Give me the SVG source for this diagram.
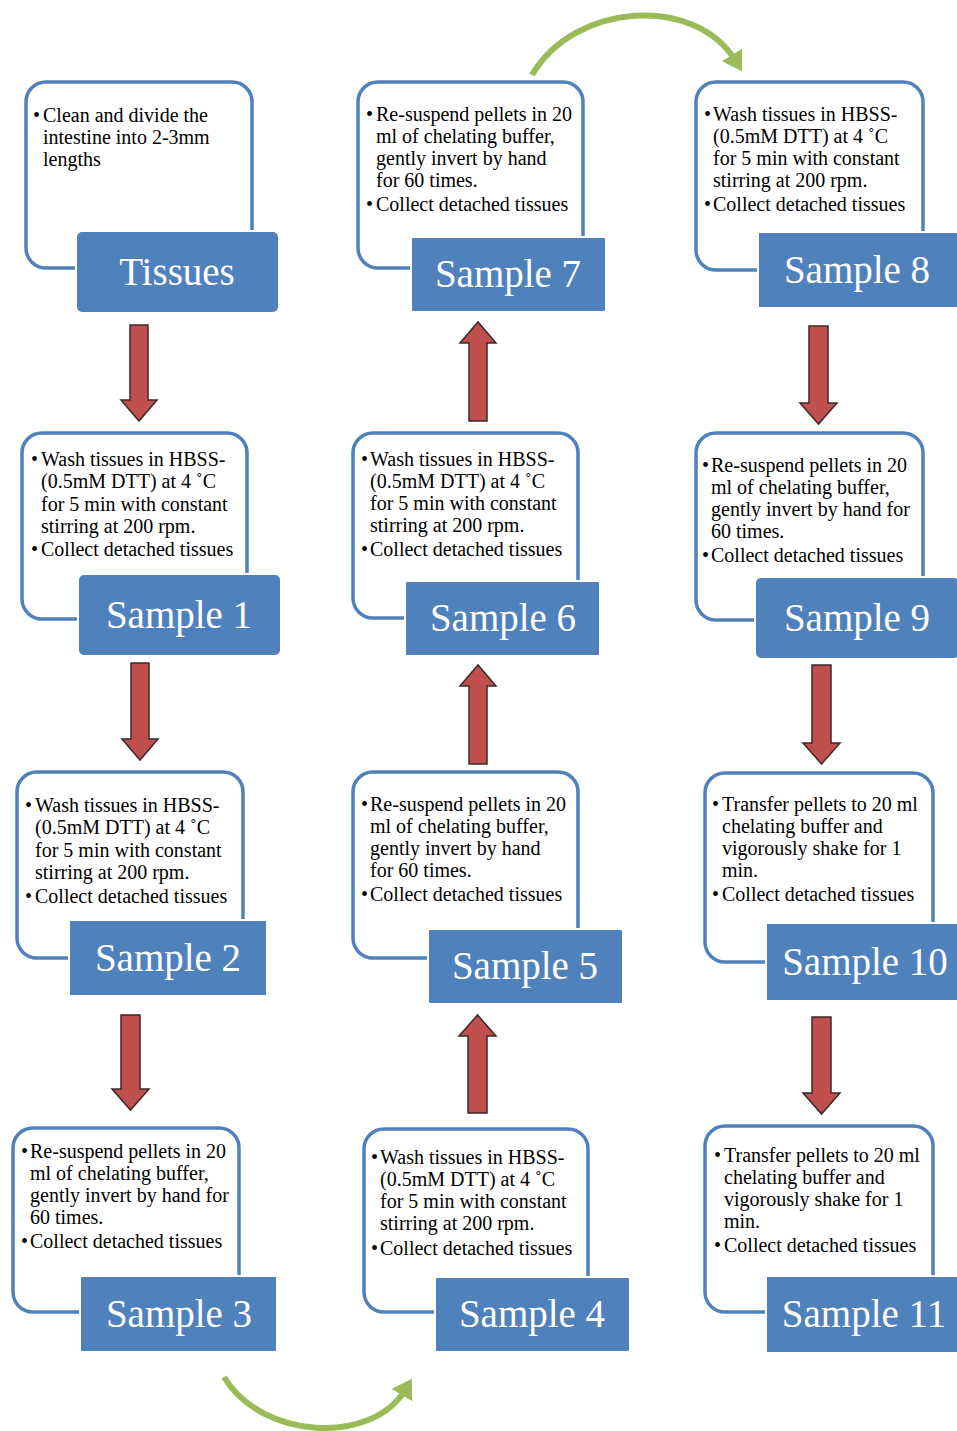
<svg xmlns="http://www.w3.org/2000/svg" width="957" height="1431" viewBox="0 0 957 1431">
<style>
.box{fill:#fff;stroke:#4F81BD;stroke-width:3.5}
.lab{fill:#4F81BD;stroke:#fff;stroke-width:2}
.t{font-family:"Liberation Serif","Times New Roman",serif;font-size:20px;fill:#000}
.lt{font-family:"Liberation Serif","Times New Roman",serif;font-size:39px;fill:#fff;text-anchor:middle}
.arr{fill:#C0504D;stroke:#3a2a2a;stroke-width:1.5}
.g{fill:none;stroke:#9BBB59;stroke-width:6}
</style>
<defs>
<marker id="gh" markerWidth="4" markerHeight="4" refX="1" refY="2" orient="auto" markerUnits="strokeWidth">
<path d="M0,0 L3.2,2 L0,4 Z" fill="#9BBB59"/>
</marker>
</defs>
<rect width="957" height="1431" fill="#fff"/>

<g id="connectors">
<polygon class="arr" points="130,325 148,325 148,400 157,400 139,421 121,400 130,400"/>
<polygon class="arr" points="131,663 149,663 149,739 158,739 140,760 122,739 131,739"/>
<polygon class="arr" points="121,1015 140,1015 140,1089 149,1089 130.5,1110 112,1089 121,1089"/>
<polygon class="arr" points="469,421 487,421 487,343 496,343 478,322 460,343 469,343"/>
<polygon class="arr" points="469,764 487,764 487,686 496,686 478,665 460,686 469,686"/>
<polygon class="arr" points="468,1113 487,1113 487,1036 496,1036 477.5,1015 459,1036 468,1036"/>
<polygon class="arr" points="809,326 828,326 828,403 837,403 818.5,424 800,403 809,403"/>
<polygon class="arr" points="812,665 831,665 831,743 840,743 821.5,764 803,743 812,743"/>
<polygon class="arr" points="812,1017 831,1017 831,1093 840,1093 821.5,1114 803,1093 812,1093"/>
<path class="g" d="M532,75 C575,2 695,-5 735,60" marker-end="url(#gh)"/>
<path class="g" d="M224,1377 C262,1440 372,1445 405,1390" marker-end="url(#gh)"/>
</g>

<g id="tissues">
<rect class="box" x="26" y="82" width="226" height="186" rx="20"/>
<rect class="lab" x="76" y="231" width="203" height="82" rx="6"/>
<text class="t"><tspan x="33" y="122">•</tspan><tspan x="43" y="122">Clean and divide the</tspan><tspan x="43" y="144">intestine into 2-3mm</tspan><tspan x="43" y="166">lengths</tspan></text>
<text class="lt" x="177" y="285">Tissues</text>
</g>

<g id="sample1">
<rect class="box" x="22" y="433" width="225" height="186" rx="20"/>
<rect class="lab" x="78" y="574" width="203" height="82" rx="6"/>
<text class="t"><tspan x="31" y="466">•</tspan><tspan x="41" y="466">Wash tissues in HBSS-</tspan><tspan x="41" y="488">(0.5mM DTT) at 4 ˚C</tspan><tspan x="41" y="511">for 5 min with constant</tspan><tspan x="41" y="533">stirring at 200 rpm.</tspan><tspan x="31" y="556">•</tspan><tspan x="41" y="556">Collect detached tissues</tspan></text>
<text class="lt" x="179" y="628">Sample 1</text>
</g>

<g id="sample2">
<rect class="box" x="17" y="772" width="226" height="186" rx="20"/>
<rect class="lab" x="69" y="920" width="198" height="76" rx="2"/>
<text class="t"><tspan x="25" y="812">•</tspan><tspan x="35" y="812">Wash tissues in HBSS-</tspan><tspan x="35" y="834">(0.5mM DTT) at 4 ˚C</tspan><tspan x="35" y="857">for 5 min with constant</tspan><tspan x="35" y="879">stirring at 200 rpm.</tspan><tspan x="25" y="903">•</tspan><tspan x="35" y="903">Collect detached tissues</tspan></text>
<text class="lt" x="168" y="971">Sample 2</text>
</g>

<g id="sample3">
<rect class="box" x="13" y="1128" width="226" height="184" rx="20"/>
<rect class="lab" x="80" y="1276" width="197" height="76" rx="2"/>
<text class="t"><tspan x="21" y="1158">•</tspan><tspan x="30" y="1158">Re-suspend pellets in 20</tspan><tspan x="30" y="1180">ml of chelating buffer,</tspan><tspan x="30" y="1202">gently invert by hand for</tspan><tspan x="30" y="1224">60 times.</tspan><tspan x="21" y="1248">•</tspan><tspan x="30" y="1248">Collect detached tissues</tspan></text>
<text class="lt" x="179" y="1327">Sample 3</text>
</g>

<g id="sample4">
<rect class="box" x="364" y="1129" width="224" height="183" rx="20"/>
<rect class="lab" x="435" y="1277" width="195" height="75" rx="2"/>
<text class="t"><tspan x="371" y="1164">•</tspan><tspan x="380" y="1164">Wash tissues in HBSS-</tspan><tspan x="380" y="1186">(0.5mM DTT) at 4 ˚C</tspan><tspan x="380" y="1208">for 5 min with constant</tspan><tspan x="380" y="1230">stirring at 200 rpm.</tspan><tspan x="371" y="1255">•</tspan><tspan x="380" y="1255">Collect detached tissues</tspan></text>
<text class="lt" x="532" y="1327">Sample 4</text>
</g>

<g id="sample5">
<rect class="box" x="353" y="772" width="225" height="186" rx="20"/>
<rect class="lab" x="428" y="929" width="195" height="75" rx="2"/>
<text class="t"><tspan x="361" y="811">•</tspan><tspan x="370" y="811">Re-suspend pellets in 20</tspan><tspan x="370" y="833">ml of chelating buffer,</tspan><tspan x="370" y="855">gently invert by hand</tspan><tspan x="370" y="877">for 60 times.</tspan><tspan x="361" y="901">•</tspan><tspan x="370" y="901">Collect detached tissues</tspan></text>
<text class="lt" x="525" y="979">Sample 5</text>
</g>

<g id="sample6">
<rect class="box" x="353" y="433" width="225" height="185" rx="20"/>
<rect class="lab" x="405" y="581" width="195" height="75" rx="2"/>
<text class="t"><tspan x="361" y="466">•</tspan><tspan x="370" y="466">Wash tissues in HBSS-</tspan><tspan x="370" y="488">(0.5mM DTT) at 4 ˚C</tspan><tspan x="370" y="510">for 5 min with constant</tspan><tspan x="370" y="532">stirring at 200 rpm.</tspan><tspan x="361" y="556">•</tspan><tspan x="370" y="556">Collect detached tissues</tspan></text>
<text class="lt" x="503" y="631">Sample 6</text>
</g>

<g id="sample7">
<rect class="box" x="358" y="82" width="225" height="186" rx="20"/>
<rect class="lab" x="411" y="237" width="195" height="75" rx="2"/>
<text class="t"><tspan x="366" y="121">•</tspan><tspan x="376" y="121">Re-suspend pellets in 20</tspan><tspan x="376" y="143">ml of chelating buffer,</tspan><tspan x="376" y="165">gently invert by hand</tspan><tspan x="376" y="187">for 60 times.</tspan><tspan x="366" y="211">•</tspan><tspan x="376" y="211">Collect detached tissues</tspan></text>
<text class="lt" x="508" y="287">Sample 7</text>
</g>

<g id="sample8">
<rect class="box" x="696" y="82" width="227" height="188" rx="20"/>
<rect class="lab" x="758" y="232" width="202" height="76" rx="0"/>
<text class="t"><tspan x="704" y="121">•</tspan><tspan x="713" y="121">Wash tissues in HBSS-</tspan><tspan x="713" y="143">(0.5mM DTT) at 4 ˚C</tspan><tspan x="713" y="165">for 5 min with constant</tspan><tspan x="713" y="187">stirring at 200 rpm.</tspan><tspan x="704" y="211">•</tspan><tspan x="713" y="211">Collect detached tissues</tspan></text>
<text class="lt" x="857" y="283">Sample 8</text>
</g>

<g id="sample9">
<rect class="box" x="696" y="433" width="227" height="187" rx="20"/>
<rect class="lab" x="755" y="577" width="205" height="82" rx="6"/>
<text class="t"><tspan x="702" y="472">•</tspan><tspan x="711" y="472">Re-suspend pellets in 20</tspan><tspan x="711" y="494">ml of chelating buffer,</tspan><tspan x="711" y="516">gently invert by hand for</tspan><tspan x="711" y="538">60 times.</tspan><tspan x="702" y="562">•</tspan><tspan x="711" y="562">Collect detached tissues</tspan></text>
<text class="lt" x="857" y="631">Sample 9</text>
</g>

<g id="sample10">
<rect class="box" x="705" y="773" width="228" height="189" rx="20"/>
<rect class="lab" x="766" y="923" width="194" height="78" rx="0"/>
<text class="t"><tspan x="712" y="811">•</tspan><tspan x="722" y="811">Transfer pellets to 20 ml</tspan><tspan x="722" y="833">chelating buffer and</tspan><tspan x="722" y="855">vigorously shake for 1</tspan><tspan x="722" y="877">min.</tspan><tspan x="712" y="901">•</tspan><tspan x="722" y="901">Collect detached tissues</tspan></text>
<text class="lt" x="865" y="975">Sample 10</text>
</g>

<g id="sample11">
<rect class="box" x="705" y="1126" width="228" height="186" rx="20"/>
<rect class="lab" x="766" y="1276" width="194" height="77" rx="0"/>
<text class="t"><tspan x="714" y="1162">•</tspan><tspan x="724" y="1162">Transfer pellets to 20 ml</tspan><tspan x="724" y="1184">chelating buffer and</tspan><tspan x="724" y="1206">vigorously shake for 1</tspan><tspan x="724" y="1228">min.</tspan><tspan x="714" y="1252">•</tspan><tspan x="724" y="1252">Collect detached tissues</tspan></text>
<text class="lt" x="864" y="1327">Sample 11</text>
</g>
</svg>
